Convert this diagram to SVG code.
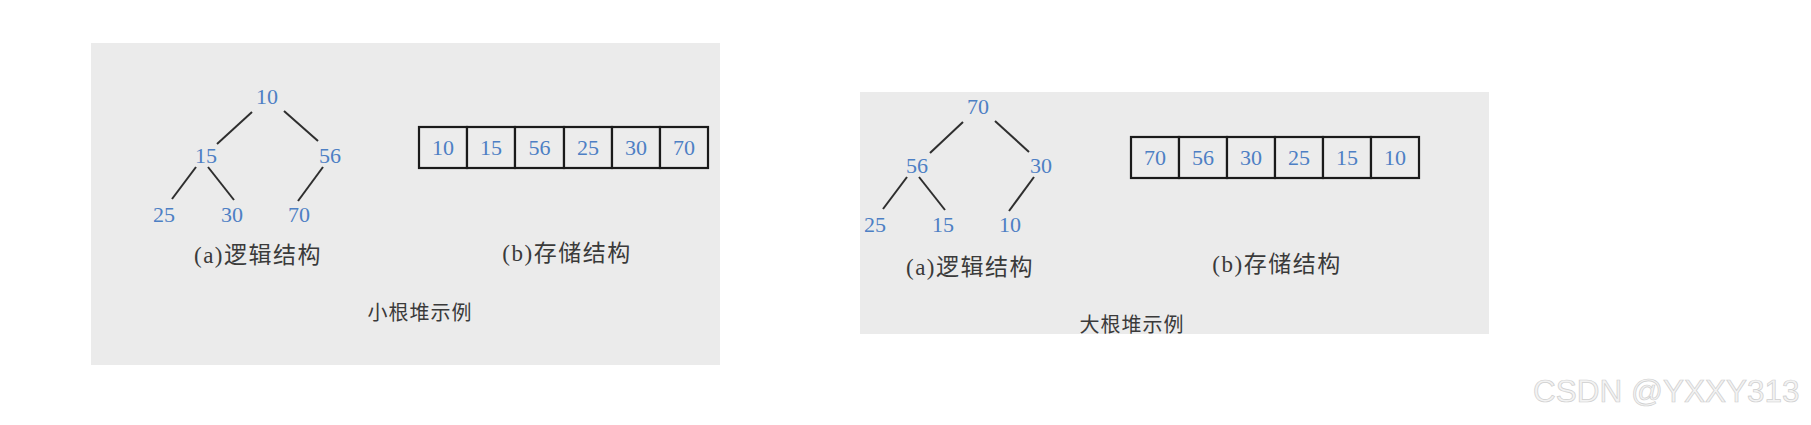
<svg xmlns="http://www.w3.org/2000/svg" width="1811" height="425" viewBox="0 0 1811 425">
<style>
.panel{fill:#ebebeb;stroke:none}
.num{font-family:"Liberation Serif","Times New Roman",serif;font-size:22px;fill:#4d7fc4;text-anchor:middle}
.cap{font-family:"Liberation Serif","Noto Sans CJK SC",serif;font-size:23px;fill:#3a3a3a;text-anchor:middle;letter-spacing:1.5px}
.title{font-family:"Liberation Serif","Noto Sans CJK SC",serif;font-size:20px;fill:#3a3a3a;text-anchor:middle;letter-spacing:1px}
.cell{fill:#ececec;stroke:#1a1a1a;stroke-width:2.2}
.edge{stroke:#2e2e2e;stroke-width:2;fill:none}
.wm{font-family:"Liberation Sans",Arial,sans-serif;font-size:31.5px;fill:#f3f3f3;stroke:#cfcfcf;stroke-width:0.7}
</style>
<rect width="1811" height="425" fill="#ffffff"/>
<g id="panel-min">
<rect class="panel" x="91" y="43" width="629" height="322"/>
</g>
<g id="panel-max">
<rect class="panel" x="860" y="92" width="629" height="242"/>
</g>
<g id="connectors">
<line class="edge" x1="252" y1="112" x2="217" y2="144"/>
<line class="edge" x1="284" y1="111" x2="318" y2="141"/>
<line class="edge" x1="196" y1="167" x2="172" y2="199"/>
<line class="edge" x1="208" y1="167" x2="234" y2="200"/>
<line class="edge" x1="323" y1="167" x2="298" y2="201"/>
<line class="edge" x1="963" y1="122" x2="930" y2="153"/>
<line class="edge" x1="995" y1="121" x2="1029" y2="152"/>
<line class="edge" x1="907" y1="177" x2="883" y2="209"/>
<line class="edge" x1="919" y1="177" x2="945" y2="210"/>
<line class="edge" x1="1034" y1="177" x2="1009" y2="211"/>
</g>
<g id="min-tree-10"><text class="num" x="267" y="104">10</text></g>
<g id="min-tree-15"><text class="num" x="206" y="163">15</text></g>
<g id="min-tree-56"><text class="num" x="330" y="163">56</text></g>
<g id="min-tree-25"><text class="num" x="164" y="222">25</text></g>
<g id="min-tree-30"><text class="num" x="232" y="222">30</text></g>
<g id="min-tree-70"><text class="num" x="299" y="222">70</text></g>
<g id="min-array">
<rect class="cell" x="419" y="127" width="48" height="41"/>
<rect class="cell" x="467" y="127" width="48" height="41"/>
<rect class="cell" x="515" y="127" width="49" height="41"/>
<rect class="cell" x="564" y="127" width="48" height="41"/>
<rect class="cell" x="612" y="127" width="48" height="41"/>
<rect class="cell" x="660" y="127" width="48" height="41"/>
<text class="num" x="443" y="155">10</text>
<text class="num" x="491" y="155">15</text>
<text class="num" x="539.5" y="155">56</text>
<text class="num" x="588" y="155">25</text>
<text class="num" x="636" y="155">30</text>
<text class="num" x="684" y="155">70</text>
</g>
<g id="min-label-a"><text class="cap" x="258" y="263">(a)逻辑结构</text></g>
<g id="min-label-b"><text class="cap" x="567" y="261">(b)存储结构</text></g>
<g id="min-title"><text class="title" x="420" y="320">小根堆示例</text></g>
<g id="max-tree-70"><text class="num" x="978" y="114">70</text></g>
<g id="max-tree-56"><text class="num" x="917" y="173">56</text></g>
<g id="max-tree-30"><text class="num" x="1041" y="173">30</text></g>
<g id="max-tree-25"><text class="num" x="875" y="232">25</text></g>
<g id="max-tree-15"><text class="num" x="943" y="232">15</text></g>
<g id="max-tree-10"><text class="num" x="1010" y="232">10</text></g>
<g id="max-array">
<rect class="cell" x="1131" y="137" width="48" height="41"/>
<rect class="cell" x="1179" y="137" width="48" height="41"/>
<rect class="cell" x="1227" y="137" width="48" height="41"/>
<rect class="cell" x="1275" y="137" width="48" height="41"/>
<rect class="cell" x="1323" y="137" width="48" height="41"/>
<rect class="cell" x="1371" y="137" width="48" height="41"/>
<text class="num" x="1155" y="165">70</text>
<text class="num" x="1203" y="165">56</text>
<text class="num" x="1251" y="165">30</text>
<text class="num" x="1299" y="165">25</text>
<text class="num" x="1347" y="165">15</text>
<text class="num" x="1395" y="165">10</text>
</g>
<g id="max-label-a"><text class="cap" x="970" y="275">(a)逻辑结构</text></g>
<g id="max-label-b"><text class="cap" x="1277" y="272">(b)存储结构</text></g>
<g id="max-title"><text class="title" x="1132" y="332">大根堆示例</text></g>
<g id="watermark"><text class="wm" x="1533" y="402">CSDN @YXXY313</text></g>
</svg>
